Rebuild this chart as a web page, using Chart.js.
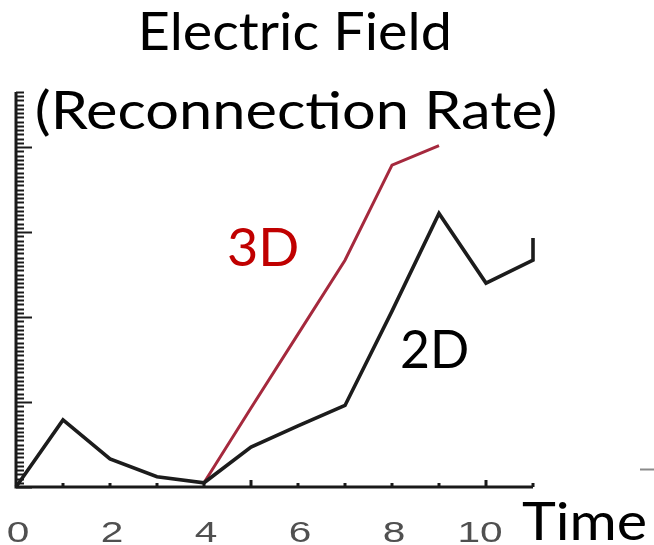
<!DOCTYPE html>
<html>
<head>
<meta charset="utf-8">
<script src="https://cdn.jsdelivr.net/npm/chart.js@4.4.1/dist/chart.umd.min.js"></script>
<style>
  html, body { margin: 0; padding: 0; background: #fff; }
  #wrap { width: 654px; height: 545px; }
</style>
</head>
<body>
<div id="wrap"><canvas id="c" width="654" height="545"></canvas></div>
<script>
// Reconnection rate (electric field) versus time, 2D and 3D runs
const time2D  = [0, 1, 2, 3, 4, 5, 6, 7, 8, 9, 10, 11, 11];
const field2D = [0, 0.79, 0.33, 0.12, 0.05, 0.47, 0.72, 0.96, 2.07, 3.22, 2.40, 2.67, 2.93];

const time3D  = [4, 5, 6, 7, 8, 9];
const field3D = [0.05, 0.93, 1.80, 2.67, 3.79, 4.02];

const xTickLabels = [0, 2, 4, 6, 8, 10];
const xTickMarks  = [1, 2, 3, 4, 5, 6, 7, 8, 9, 10, 11];

const titleLines = ['Electric Field', '(Reconnection Rate)'];
const xAxisTitle = 'Time';
const label2D = '2D';
const label3D = '3D';

const toPoints = (xs, ys) => xs.map((x, i) => ({ x: x, y: ys[i] }));

const TEXT_FONT = 'Lato, "Open Sans", sans-serif';

// draw text squeezed/stretched horizontally into a given width
function fitText(ctx, text, left, baseline, width, px, color, family, weight) {
  ctx.save();
  ctx.font = (weight || 'normal') + ' ' + px + 'px ' + family;
  ctx.fillStyle = color;
  ctx.textBaseline = 'alphabetic';
  ctx.textAlign = 'left';
  const m = ctx.measureText(text);
  const glyphW = m.actualBoundingBoxRight + m.actualBoundingBoxLeft;
  const sx = width / glyphW;
  ctx.translate(left, baseline);
  ctx.scale(sx, 1);
  ctx.fillText(text, m.actualBoundingBoxLeft, 0);
  ctx.restore();
}

const frame = {
  id: 'frame',
  beforeDatasetsDraw(chart) {
    chart.ctx.save();
    chart.ctx.filter = 'blur(0.6px)';
  },
  afterDatasetsDraw(chart) {
    chart.ctx.restore();
    const ctx = chart.ctx;
    const xs = chart.scales.x, ys = chart.scales.y;
    const x0 = xs.getPixelForValue(0);
    const y0 = ys.getPixelForValue(0);
    const yTop = ys.getPixelForValue(ys.max);
    const xEnd = xs.getPixelForValue(xs.max);

    ctx.save();
    ctx.filter = 'blur(0.5px)';
    ctx.strokeStyle = '#1a1a1a';
    ctx.lineCap = 'butt';

    // y-axis minor/major ticks, pointing inward
    ctx.lineWidth = 2;
    for (let k = 0; k * 0.05 <= ys.max + 1e-9; k++) {
      const v = k * 0.05;
      const py = Math.round(ys.getPixelForValue(v)) + 0.5;
      const major = k % 20 === 0;
      ctx.beginPath();
      ctx.moveTo(x0, py);
      ctx.lineTo(x0 + (major ? 16 : 8), py);
      ctx.stroke();
    }

    // x-axis ticks
    ctx.lineWidth = 3;
    xTickMarks.forEach(v => {
      const px = xs.getPixelForValue(v);
      const len = (v % 5 === 0) ? 7 : 4;
      ctx.beginPath();
      ctx.moveTo(px, y0);
      ctx.lineTo(px, y0 - len);
      ctx.stroke();
    });

    // axis lines
    ctx.lineWidth = 3;
    ctx.beginPath();
    ctx.moveTo(x0, yTop);
    ctx.lineTo(x0, y0);
    ctx.lineTo(xEnd, y0);
    ctx.stroke();

    // x tick labels
    ctx.fillStyle = '#505050';
    ctx.font = '29px "Liberation Sans", Arial, sans-serif';
    ctx.textAlign = 'center';
    ctx.textBaseline = 'alphabetic';
    xTickLabels.forEach(v => {
      const px = xs.getPixelForValue(v) + (v === 10 ? -6 : 2);
      ctx.save();
      ctx.translate(px, 542);
      ctx.scale(1.4, 1);
      ctx.fillText(String(v), 0, 0);
      ctx.restore();
    });

    // stray tick at the right margin
    ctx.strokeStyle = '#8a8a8a';
    ctx.lineWidth = 2;
    ctx.beginPath();
    ctx.moveTo(640, 469.5);
    ctx.lineTo(654, 469.5);
    ctx.stroke();
    ctx.restore();

    // titles and labels
    fitText(ctx, titleLines[0], 142, 50, 306, 53, '#000', TEXT_FONT);
    fitText(ctx, titleLines[1], 37, 129, 518, 53, '#000', TEXT_FONT);
    fitText(ctx, label3D, 229, 266, 68, 53, '#C00000', TEXT_FONT);
    fitText(ctx, label2D, 402, 368, 65, 53, '#000', TEXT_FONT);
    fitText(ctx, xAxisTitle, 522, 540, 123, 53, '#000', TEXT_FONT);
  }
};

new Chart(document.getElementById('c'), {
  type: 'line',
  data: {
    datasets: [
      {
        label: label2D,
        data: toPoints(time2D, field2D),
        borderColor: '#1c1c1c',
        borderWidth: 3.6,
        pointRadius: 0,
        tension: 0,
        clip: false
      },
      {
        label: label3D,
        data: toPoints(time3D, field3D),
        borderColor: '#a5293d',
        borderWidth: 3,
        pointRadius: 0,
        tension: 0,
        clip: false
      }
    ]
  },
  options: {
    responsive: false,
    animation: false,
    events: [],
    layout: { padding: { left: 16, right: 121, top: 92, bottom: 58 } },
    plugins: {
      legend: { display: false },
      title: { display: false },
      tooltip: { enabled: false }
    },
    scales: {
      x: { type: 'linear', min: 0, max: 11, display: false },
      y: { type: 'linear', min: 0, max: 4.65, display: false }
    }
  },
  plugins: [frame]
});
</script>
</body>
</html>
